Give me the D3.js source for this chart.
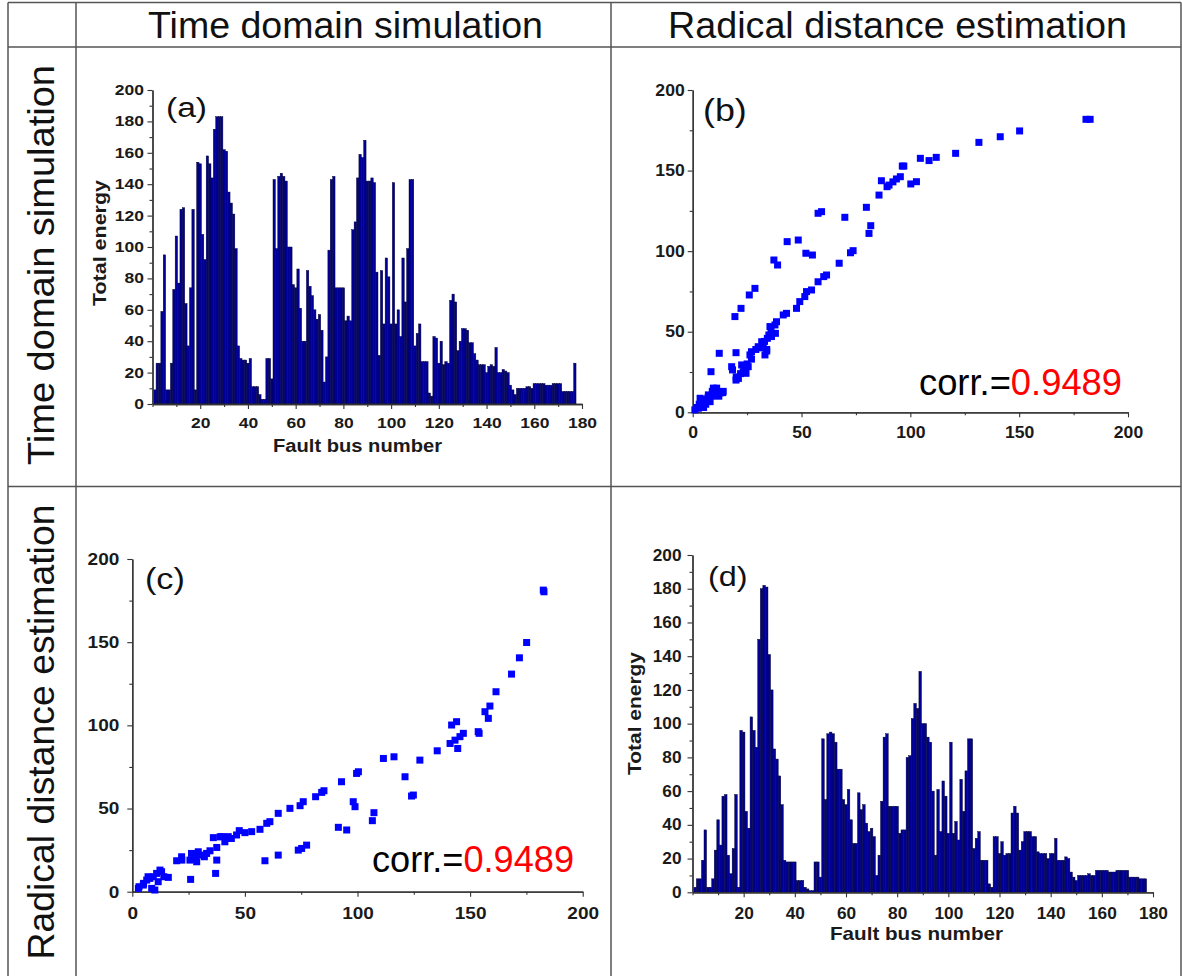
<!DOCTYPE html>
<html><head><meta charset="utf-8">
<script src="https://cdn.jsdelivr.net/npm/d3@7/dist/d3.min.js"></script>
<style>
body{margin:0;background:#fff}
svg{display:block}
text{font-family:"Liberation Sans",Arial,sans-serif}
</style>
</head><body>
<svg id="chart" width="1182" height="976"></svg>
<script>
// ---------------- DATA ----------------
const colTitles = ["Time domain simulation", "Radical distance estimation"];
const rowTitles = ["Time domain simulation", "Radical distance estimation"];
const panelLabels = ["(a)", "(b)", "(c)", "(d)"];
const corrLabel = "corr.=";
const corrValue = "0.9489";
const axisTitleX = "Fault bus number";
const axisTitleY = "Total energy";

const busNumbers = [1,2,3,4,5,6,7,8,9,10,11,12,13,14,15,16,17,18,19,20,21,22,23,24,25,26,27,28,29,30,
31,32,33,34,35,36,37,38,39,40,41,42,43,44,45,46,47,48,49,50,51,52,53,54,55,56,57,58,59,60,
61,62,63,64,65,66,67,68,69,70,71,72,73,74,75,76,77,78,79,80,81,82,83,84,85,86,87,88,89,90,
91,92,93,94,95,96,97,98,99,100,101,102,103,104,105,106,107,108,109,110,111,112,113,114,115,116,117,118,119,120,
121,122,123,124,125,126,127,128,129,130,131,132,133,134,135,136,137,138,139,140,141,142,143,144,145,146,147,148,149,150,
151,152,153,154,155,156,157,158,159,160,161,162,163,164,165,166,167,168,169,170,171,172,173,174,175,176,177];

// (a) time domain simulation energy
const energyA = [9,26,26,59,95,9,9,26,73,107,
77,124,125,64,37,74,124,9,154,153,
108,92,158,153,144,175,183,183,183,162,
161,135,128,121,99,37,29,28,28,26,
29,11,11,11,6,3,3,29,29,16,
143,99,145,147,145,142,100,100,76,74,
86,61,40,40,85,75,69,60,54,57,
47,14,30,98,143,145,74,74,74,74,
53,56,53,111,116,144,159,157,168,142,
142,144,141,84,31,85,51,93,81,51,
141,51,60,43,93,65,99,143,143,37,
45,51,27,27,27,7,5,43,42,26,
40,25,27,26,66,70,65,34,40,48,
48,47,39,39,32,28,25,25,25,20,
24,25,24,36,20,20,22,21,20,12,
9,6,10,10,10,10,11,11,10,13,
13,13,13,13,12,12,12,13,13,13,
13,8,8,8,8,8,26];

// (d) radical distance estimation energy
const energyD = [3,8,8,19,37,3,3,8,25,43,
28,57,58,22,11,26,58,3,96,95,
48,38,104,96,86,150,180,182,181,141,
120,85,79,69,52,19,18,18,18,18,
7,7,7,3,2,1,1,18,18,9,
91,55,94,95,94,89,73,73,55,52,
61,43,29,29,59,49,52,41,36,38,
33,10,22,54,92,94,51,51,51,51,
35,37,37,80,81,103,112,109,131,100,
100,92,89,60,22,61,36,66,57,35,
89,35,42,31,67,48,72,91,91,26,
32,36,19,19,19,5,3,33,33,23,
30,22,23,23,47,51,47,25,30,36,
36,36,33,33,24,23,23,23,20,23,
23,32,19,19,19,21,20,12,9,7,
10,10,10,10,11,10,10,13,13,13,
13,13,12,12,12,13,13,13,13,13,
9,9,9,9,8,8,8];

// (b) scatter
const scatterBX = [1,2.6,3.4,4,7.2,8,8.4,9.5,10,11,12.2,12.5,13.8,17.9,18.3,19.4,19.9,19.9,21,22.2,
22.5,23.2,24.5,25.5,26,26.3,27,28.6,30.1,31.7,32.4,33.2,34,34.3,35.5,36.2,37.3,37.8,38,39,
38.5,41.6,43.1,43.4,47.7,48.5,49.2,51.5,52,52.3,54.6,55,57.6,57.6,59.2,60.2,61.5,67.3,69.9,72.5,
73.7,79.8,81,81.8,85.6,86.7,89.3,90.2,92,93.6,95.4,96.3,97,100.2,102.8,104.6,108.6,111.9,120.8,131.5,
141.3,150.2,180.7,182.6,
2,3,5,6,7,9,10,11,14,20,22,24,25,27,29,31,33,35,36,34,5,6,9,12];
const scatterBY = [1.5,2.5,8.7,4.5,10.8,6.6,25.2,15,12,11,36.6,12,12.2,28.3,26.3,59.4,37,20,21,64.5,
29.4,25.2,24.2,28.3,72.8,35.6,37.6,76.9,40.7,43.8,42.8,35.6,39,45.9,53.2,47,94.5,54.2,49,91.4,
56.2,60.4,61.4,105.9,64.5,106.9,68.7,71.8,98.7,74.9,75.9,97.6,81,123.5,124.5,84.2,85.2,92.5,121,99,
100.3,127.2,111,115.8,134.8,143.7,140,141,143,144.8,146.2,152.8,152.8,141.7,143.1,157.6,156.2,158.2,160.7,167.5,
171,174.6,181.8,181.8,
3,5,6,8,9,10,14,15,13,22,24,27,30,33,39,40,44,48,52,38,3,5,13,10];

// (c) scatter
const scatterCX = [182.5,182.8,175.1,171.9,168.4,161.5,158.8,156.6,158.1,153.6,154,144,141.8,147,145.5,143.3,141.1,144.5,135.4,127.7,
121.1,124.8,124,116.2,111.5,100.4,99.6,92.9,98.1,98.9,107.3,106.6,91.5,95.2,85.1,84.1,81.4,75.9,74.5,70,
64.8,61.1,59.7,56.7,53,50,47.5,46.3,42.6,39.7,36,41.1,37.5,34.5,30.8,29.3,27.8,26.3,28.6,25.6,
21.9,19.7,25.9,37.5,37,58.9,64.8,73.7,77.4,75.2,16,13,10.8,9.3,7.8,6.4,4.9,2.7,8.6,10,
11.5,12.3,
3,5,7,14,39,44,32,28,22,33];
const scatterCY = [181.3,180.3,149.8,140.6,130.8,120.2,111.6,108.2,104.2,96.2,95.2,102.2,100.2,95.2,93.2,91.1,89.1,86.1,84.7,79.1,
69.1,58.1,57.5,81.1,80.1,72.1,71.1,66.1,54.1,51.1,47.5,42.7,38.7,37.1,60.7,59.7,57.1,54.1,51.7,50.1,
47.1,42.1,41.1,37.5,36.1,35.5,36.7,34.1,33.1,33.1,32.5,30,26.6,24.6,22,24,22,23,18,19,
21,18.6,7.4,19,11,18.6,22,25,28,26,8.6,12,11,9,8,7,4,2,2,1,
6,13,
3,5,9,9,33,32,21,20,19,23];

const histXTicks = [20,40,60,80,100,120,140,160,180];
const histXMinor = [0,10,30,50,70,90,110,130,150,170];
const histYTicks = [0,20,40,60,80,100,120,140,160,180,200];
const histYMinor = [10,30,50,70,90,110,130,150,170,190];
const scatTicks = [0,50,100,150,200];
const scatMinor = [25,75,125,175];

// ---------------- DRAWING ----------------
const FF = '"Liberation Sans",Arial,sans-serif';
const svg = d3.select("#chart");
const INK = "#1a1a1a", AX = "#333";

// table frame
const frame = svg.append("g").attr("stroke", "#555").attr("stroke-width", 1.5);
[[8,2.5,1181,2.5],[8,47,1181,47],[8,486.5,1181,486.5],
 [8,2.5,8,976],[76,2.5,76,976],[611,2.5,611,976],[1181,2.5,1181,976]]
 .forEach(l => frame.append("line").attr("x1",l[0]).attr("y1",l[1]).attr("x2",l[2]).attr("y2",l[3]));

// headers
[[colTitles[0],148,395],[colTitles[1],668,459]].forEach(h =>
  svg.append("text").attr("x",h[1]).attr("y",38).attr("font-size",36).attr("fill","#111").attr("font-family",FF)
    .attr("textLength",h[2]).attr("lengthAdjust","spacingAndGlyphs").text(h[0]));
[[rowTitles[0],265,400],[rowTitles[1],732,455]].forEach(h =>
  svg.append("text").attr("transform",`translate(54,${h[1]}) rotate(-90)`).attr("text-anchor","middle")
    .attr("font-size",36).attr("fill","#111").attr("font-family",FF)
    .attr("textLength",h[2]).attr("lengthAdjust","spacingAndGlyphs").text(h[0]));

function styleAxis(g){
  g.select(".domain").attr("stroke",AX).attr("stroke-width",1.3);
  g.selectAll(".tick line").attr("stroke",AX).attr("stroke-width",1.1);
}

function drawAxes(x, y, o){
  const y0 = y.range()[0], x0 = x.range()[0];
  const gxm = svg.append("g").attr("transform",`translate(0,${y0})`)
    .call(d3.axisBottom(x).tickValues(o.xMinor).tickSize(3).tickSizeOuter(0).tickFormat(""));
  styleAxis(gxm);
  const gx = svg.append("g").attr("transform",`translate(0,${y0})`)
    .call(d3.axisBottom(x).tickValues(o.xMajor).tickSize(5).tickSizeOuter(0).tickPadding(o.xPad));
  styleAxis(gx);
  gx.selectAll(".tick text").attr("font-size",o.fs).attr("font-weight","bold").attr("fill",INK)
    .attr("font-family",FF).attr("transform",`scale(${o.sx},1)`);
  const gym = svg.append("g").attr("transform",`translate(${x0},0)`)
    .call(d3.axisLeft(y).tickValues(o.yMinor).tickSize(3).tickSizeOuter(0).tickFormat(""));
  styleAxis(gym);
  const gy = svg.append("g").attr("transform",`translate(${x0},0)`)
    .call(d3.axisLeft(y).tickValues(o.yMajor).tickSize(5).tickSizeOuter(0));
  styleAxis(gy);
  gy.selectAll(".tick text").attr("font-size",o.fs).attr("font-weight","bold").attr("fill",INK)
    .attr("font-family",FF).attr("x", -o.yGap/o.sx).attr("transform",`scale(${o.sx},1)`);
}

function panelLabel(o){
  svg.append("text").attr("x",o.lab[0]).attr("y",o.lab[1]).attr("font-size",o.lab[2]).attr("fill","#111")
    .attr("font-family",FF).attr("transform",`translate(${o.lab[0]},0) scale(${o.lab[3]},1) translate(${-o.lab[0]},0)`)
    .text(o.label);
}

function histPanel(vals, o){
  const x = d3.scaleLinear().domain([0,180]).range(o.xr);
  const y = d3.scaleLinear().domain([0,200]).range(o.yr);
  svg.append("g").selectAll("rect").data(busNumbers).join("rect")
    .attr("x", d => x(d-0.5)).attr("width", d => x(d+0.5)-x(d-0.5))
    .attr("y", (d,i) => y(vals[i])).attr("height", (d,i) => y(0)-y(vals[i]))
    .attr("fill","#000096").attr("stroke","#00002e").attr("stroke-width",0.45);
  drawAxes(x, y, {xMajor:histXTicks, xMinor:histXMinor, yMajor:histYTicks, yMinor:histYMinor,
    fs:o.fs, sx:o.sx, xPad:o.xPad, yGap:o.yGap});
  svg.append("text").attr("x",o.xt[0]).attr("y",o.xt[1]).attr("text-anchor","middle").attr("font-family",FF)
    .attr("font-size",o.tfs).attr("font-weight","bold").attr("fill",INK)
    .attr("textLength",o.xt[2]).attr("lengthAdjust","spacingAndGlyphs").text(axisTitleX);
  svg.append("text").attr("transform",`translate(${o.yt[0]},${o.yt[1]}) rotate(-90)`).attr("text-anchor","middle")
    .attr("font-family",FF).attr("font-size",o.tfs).attr("font-weight","bold").attr("fill",INK)
    .attr("textLength",o.yt[2]).attr("lengthAdjust","spacingAndGlyphs").text(axisTitleY);
  panelLabel(o);
}

function scatterPanel(xs, ys, o){
  const x = d3.scaleLinear().domain([0,200]).range(o.xr);
  const y = d3.scaleLinear().domain([0,200]).range(o.yr);
  drawAxes(x, y, {xMajor:scatTicks, xMinor:scatMinor, yMajor:scatTicks, yMinor:scatMinor,
    fs:o.fs, sx:o.sx, xPad:o.xPad, yGap:o.yGap});
  const s = 7;
  svg.append("g").selectAll("rect").data(xs).join("rect")
    .attr("x", d => x(d)-s/2).attr("y", (d,i) => y(ys[i])-s/2)
    .attr("width", s).attr("height", s).attr("fill","#0000ff");
  const t = svg.append("text").attr("x",o.corr[0]).attr("y",o.corr[1]).attr("font-size",36).attr("font-family",FF)
    .attr("textLength",o.corr[2]).attr("lengthAdjust","spacingAndGlyphs");
  t.append("tspan").attr("fill","#000").text(corrLabel);
  t.append("tspan").attr("fill","#ff0000").text(corrValue);
  panelLabel(o);
}

// (a)
histPanel(energyA, {xr:[152.5,582], yr:[404,90], fs:14, sx:1.25, xPad:9, yGap:8.5,
  tfs:18, xt:[357.5,452,169], yt:[106,243,126], lab:[166,117,28,1.2], label:panelLabels[0]});
// (b)
scatterPanel(scatterBX, scatterBY, {xr:[692.7,1128], yr:[412.3,90], fs:16, sx:1.1, xPad:9, yGap:8,
  corr:[919,395,203], lab:[703,121,32,1.12], label:panelLabels[1]});
// (c)
scatterPanel(scatterCX, scatterCY, {xr:[132.3,582.7], yr:[891.7,559], fs:17, sx:1.12, xPad:10, yGap:13,
  corr:[372,872,202], lab:[145,589,30,1.14], label:panelLabels[2]});
// (d)
histPanel(energyD, {xr:[692.5,1153], yr:[892.3,555], fs:16, sx:1.08, xPad:10, yGap:11,
  tfs:18.5, xt:[916.5,940,173], yt:[641,713.5,123], lab:[708,586.5,27,1.2], label:panelLabels[3]});
</script>
</body></html>
